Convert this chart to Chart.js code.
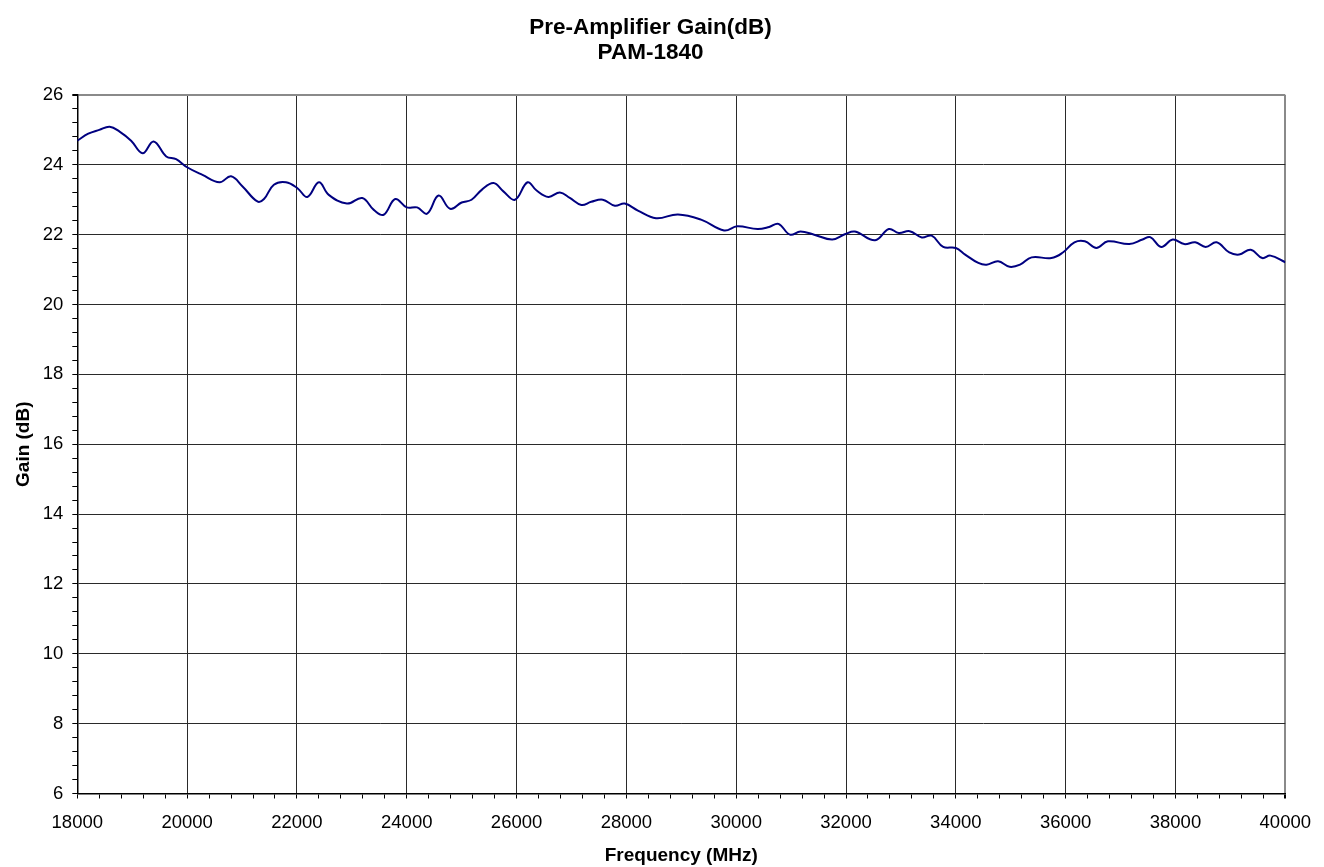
<!DOCTYPE html>
<html>
<head>
<meta charset="utf-8">
<script src="https://cdn.jsdelivr.net/npm/chart.js@4.4.0/dist/chart.umd.min.js"></script>
<style>
  html, body { margin: 0; padding: 0; background: #fff; }
  #wrap { width: 1324px; height: 867px; position: relative; }
</style>
</head>
<body>
<div id="wrap"><canvas id="c" width="1324" height="867"></canvas></div>
<script>
const titleLines = ['Pre-Amplifier Gain(dB)', 'PAM-1840'];
const xAxisTitle = 'Frequency (MHz)';
const yAxisTitle = 'Gain (dB)';

const freqMHz = [18000, 18200, 18400, 18590, 18770, 18980, 19190, 19390, 19620, 19800,
  20000, 20280, 20590, 20800, 21010, 21280, 21400, 21580, 21800, 22010,
  22190, 22400, 22580, 22910, 23190, 23400, 23580, 23790, 24000, 24190,
  24370, 24580, 24790, 25000, 25180, 25370, 25580, 25760, 25970, 26200,
  26360, 26580, 26790, 26970, 27180, 27360, 27570, 27790, 27970, 28210,
  28540, 28940, 29360, 29780, 30020, 30390, 30600, 30770, 30980, 31170,
  31420, 31750, 31990, 32160, 32530, 32780, 32960, 33160, 33380, 33560,
  33770, 34000, 34170, 34410, 34560, 34770, 34980, 35170, 35380, 35740,
  35950, 36160, 36350, 36560, 36770, 37160, 37400, 37540, 37740, 37950,
  38160, 38360, 38550, 38750, 38980, 39160, 39370, 39580, 39730, 40000];

const gainDB = [24.69, 24.89, 25.0, 25.09, 24.95, 24.69, 24.33, 24.67, 24.24, 24.16,
  23.93, 23.71, 23.5, 23.67, 23.38, 22.95, 23.02, 23.43, 23.5, 23.33,
  23.08, 23.5, 23.14, 22.89, 23.05, 22.71, 22.57, 23.02, 22.78, 22.78,
  22.6, 23.12, 22.74, 22.92, 23.0, 23.29, 23.48, 23.24, 23.0, 23.5,
  23.27, 23.08, 23.21, 23.05, 22.85, 22.94, 23.0, 22.83, 22.89, 22.69,
  22.47, 22.58, 22.43, 22.12, 22.24, 22.16, 22.22, 22.31, 22.0, 22.09,
  22.0, 21.86, 22.02, 22.09, 21.84, 22.16, 22.05, 22.1, 21.92, 21.97,
  21.65, 21.62, 21.43, 21.19, 21.14, 21.24, 21.08, 21.14, 21.35, 21.33,
  21.49, 21.78, 21.81, 21.62, 21.81, 21.73, 21.86, 21.93, 21.65, 21.86,
  21.73, 21.78, 21.65, 21.78, 21.49, 21.43, 21.57, 21.33, 21.4, 21.21];

const xMin = 18000, xMax = 40000, xMajor = 2000, xMinor = 400;
const yMin = 6, yMax = 26, yMajor = 2, yMinor = 0.4;

const isMajor = (v, step) => Math.abs(v / step - Math.round(v / step)) < 1e-6;

const points = freqMHz.map((f, i) => ({ x: f, y: gainDB[i] }));

const FONT = '"Liberation Sans", Arial, sans-serif';

new Chart(document.getElementById('c'), {
  type: 'line',
  data: {
    datasets: [{
      data: points,
      borderColor: '#000080',
      borderWidth: 2,
      pointRadius: 0,
      tension: 0.4,
      fill: false
    }]
  },
  options: {
    responsive: false,
    animation: false,
    events: [],
    layout: { padding: { left: 12, right: 35, top: 0, bottom: 0 } },
    plugins: {
      legend: { display: false },
      tooltip: { enabled: false },
      title: {
        display: true,
        text: titleLines,
        color: '#000',
        font: { family: FONT, size: 22.5, weight: 'bold', lineHeight: 1.11 },
        padding: { top: 15, bottom: 30 }
      }
    },
    scales: {
      x: {
        type: 'linear',
        min: xMin, max: xMax,
        afterFit: s => { s.height = 73.5; },
        border: { display: true, color: '#000', width: 1.5 },
        grid: {
          color: c => {
            const v = c.tick ? c.tick.value : 0;
            if (Math.abs(v - xMax) < 1e-6) return '#8a8a8a';
            return isMajor(v, xMajor) ? '#2a2a2a' : 'rgba(0,0,0,0)';
          },
          lineWidth: c => (c.tick && Math.abs(c.tick.value - xMax) < 1e-6) ? 2 : 1,
          tickColor: '#000',
          tickLength: 5,
          drawTicks: true
        },
        ticks: {
          stepSize: xMinor,
          autoSkip: false,
          maxRotation: 0, minRotation: 0,
          padding: 13,
          color: '#000',
          font: { family: FONT, size: 18.5 },
          callback: v => isMajor(v, xMajor) ? String(v) : ''
        },
        title: {
          display: true,
          text: xAxisTitle,
          color: '#000',
          font: { family: FONT, size: 19, weight: 'bold', lineHeight: 1.2 },
          padding: { top: 0, bottom: 0 }
        }
      },
      y: {
        type: 'linear',
        min: yMin, max: yMax,
        afterFit: s => { s.width = 65.3; },
        border: { display: true, color: '#000', width: 1.5 },
        grid: {
          color: c => {
            const v = c.tick ? c.tick.value : 0;
            if (Math.abs(v - yMax) < 1e-6) return '#8a8a8a';
            return isMajor(v, yMajor) ? '#2a2a2a' : 'rgba(0,0,0,0)';
          },
          lineWidth: c => (c.tick && Math.abs(c.tick.value - yMax) < 1e-6) ? 2 : 1,
          tickColor: '#000',
          tickLength: 5,
          drawTicks: true
        },
        ticks: {
          stepSize: yMinor,
          autoSkip: false,
          padding: 9,
          color: '#000',
          font: { family: FONT, size: 18.5 },
          callback: v => isMajor(v, yMajor) ? String(Math.round(v)) : ''
        },
        title: {
          display: true,
          text: yAxisTitle,
          color: '#000',
          font: { family: FONT, size: 19, weight: 'bold', lineHeight: 1.2 },
          padding: { top: 0, bottom: 0 }
        }
      }
    }
  }
});
</script>
</body>
</html>
